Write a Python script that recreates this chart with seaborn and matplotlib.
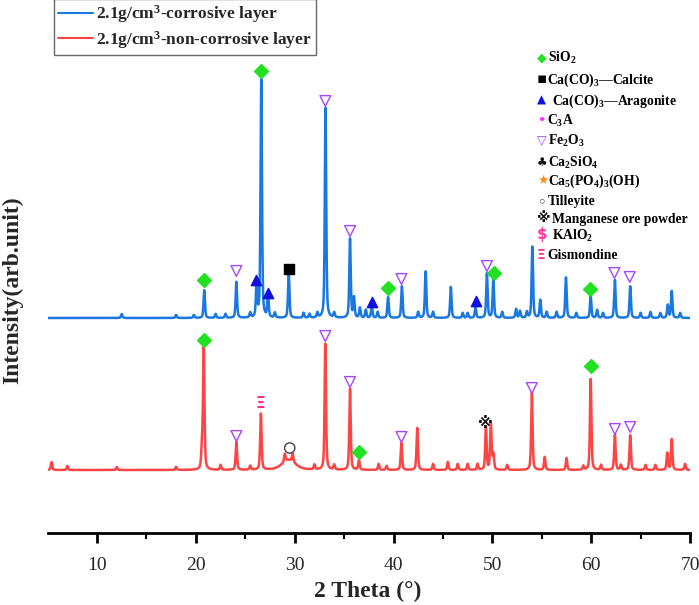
import numpy as np
import pandas as pd
import matplotlib
matplotlib.use("Agg")
import matplotlib.pyplot as plt
from matplotlib.lines import Line2D
import seaborn as sns

# ---------------- data ----------------
# Corrosive layer: peak 2theta positions and heights (arb. units)
blue_peak_pos = [12.5, 18.0, 19.8, 20.85, 22.0, 23.0, 24.1, 25.5, 26.15, 26.62, 27.3, 28.0,
                 29.4, 30.9, 31.5, 32.3, 33.12, 34.0, 35.6, 36.0, 36.6, 37.2, 37.8, 38.4,
                 39.45, 40.85, 42.5, 43.25, 44.0, 45.8, 47.0, 47.5, 48.3, 49.45, 50.1, 51.0,
                 52.4, 52.8, 53.5, 54.05, 54.85, 55.5, 56.5, 57.45, 58.5, 59.95, 60.6, 61.2,
                 62.4, 63.95, 65.0, 66.0, 67.0, 67.75, 68.15, 69.0]
blue_peak_hgt = [4, 3, 3, 28, 4, 4, 36, 5, 34, 238, 23, 5,
                 46, 5, 4, 5, 210, 5, 79, 20, 10, 8, 13, 6,
                 21, 32, 6, 47, 6, 31, 5, 5, 11, 45, 38, 6,
                 9, 7, 6, 72, 18, 6, 6, 41, 5, 22, 8, 5,
                 38, 32, 5, 6, 5, 13, 27, 5]

# Non-corrosive layer
red_peak_pos = [5.4, 7.0, 12.0, 18.0, 20.62, 20.8, 22.5, 24.1, 25.5, 26.58, 29.0, 29.8,
                32.0, 33.1, 34.0, 35.6, 36.5, 38.5, 39.3, 40.8, 42.4, 44.0, 45.5, 46.5,
                47.5, 48.5, 49.35, 49.85, 50.1, 51.5, 54.0, 55.3, 57.5, 59.2, 59.95, 61.0,
                62.4, 63.0, 63.95, 65.5, 66.5, 67.7, 68.15, 69.5]
red_peak_hgt = [8, 4, 3, 3, 20, 123, 5, 28, 4, 56, 8, 8,
                5, 126, 5, 81, 10, 6, 4, 27, 42, 6, 8, 6,
                6, 6, 43, 46, 15, 5, 77, 13, 12, 4, 92, 5,
                35, 5, 35, 5, 5, 17, 31, 6]
red_hump_pos = [29.4]
red_hump_hgt = [10]

blue_offset = 215
red_offset = 63

series_labels = ["2.1g/cm$^3$-corrosive layer", "2.1g/cm$^3$-non-corrosive layer"]

# phase markers: (phase, 2theta, height above the series baseline)
blue_mark_phase = ["SiO2", "Fe2O3", "Arag", "SiO2", "Arag", "Calc", "Fe2O3", "Fe2O3", "Arag",
                   "SiO2", "Fe2O3", "Arag", "Fe2O3", "SiO2", "SiO2", "Fe2O3", "Fe2O3"]
blue_mark_x = [20.85, 24.1, 26.1, 26.6, 27.3, 29.4, 33.1, 35.6, 37.8,
               39.4, 40.8, 48.3, 49.45, 50.2, 59.9, 62.35, 63.9]
blue_mark_h = [38, 47, 38, 247, 25, 49, 217, 87, 16,
               30, 39, 17, 52, 45, 29, 45, 41]

red_mark_phase = ["SiO2", "Fe2O3", "Gism", "Till", "Fe2O3", "Fe2O3", "SiO2", "Fe2O3",
                  "Mn", "Fe2O3", "SiO2", "Fe2O3", "Fe2O3"]
red_mark_x = [20.8, 24.1, 26.55, 29.5, 33.1, 35.6, 36.5, 40.8, 49.3, 54.0, 59.95, 62.4, 63.95]
red_mark_h = [130, 34, 66, 22, 134, 88, 18, 33, 47, 82, 104, 41, 43]

key_glyphs = ["\u25C6", "\u25AA", "\u25B2", "\u2022", "\u25BD", "\u2663", "\u2605", "\u25E6",
              "\u203B", "$", "\u039E"]
key_labels = ["SiO$_2$", "Ca(CO)$_3$\u2014Calcite", "Ca(CO)$_3$\u2014Aragonite", "C$_3$A",
              "Fe$_2$O$_3$", "Ca$_2$SiO$_4$", "Ca$_5$(PO$_4$)$_3$(OH)", "Tilleyite",
              "Manganese ore powder", "KAlO$_2$", "Gismondine"]

xticks_major = [10, 20, 30, 40, 50, 60, 70]

# ---------------- styles ----------------
C_BLUE = "#1a78e0"
C_RED = "#ff4444"
key_colors = ["#22e022", "#000000", "#1010e0", "#ff33ff", "#a646ff", "#111111",
              "#ff8a1a", "#444444", "#111111", "#ff3a9a", "#ff2d8a"]
key_sizes = [9, 11, 8.5, 9.5, 9, 8.5, 9, 9.5, 10, 11, 10]

sns.set_theme(style="white")
plt.rcParams['font.family'] = ['Liberation Serif', 'DejaVu Sans']
plt.rcParams['mathtext.fontset'] = 'custom'
plt.rcParams['mathtext.rm'] = 'Liberation Serif:bold'
plt.rcParams['mathtext.it'] = 'Liberation Serif:bold'
plt.rcParams['mathtext.bf'] = 'Liberation Serif:bold'

W, H = 699, 605
fig = plt.figure(figsize=(W / 100, H / 100), dpi=100)
ax = fig.add_axes([47.6 / W, 1 - 533 / H, (690 - 47.6) / W, (533 - 5) / H])


def profile(x, pos, hgt, fwhm):
    g = fwhm / 2.0
    y = np.zeros_like(x)
    for p, h in zip(pos, hgt):
        lor = 1.0 / (1.0 + ((x - p) / g) ** 2)
        gau = np.exp(-np.log(2) * ((x - p) / g) ** 2)
        y += h * (0.5 * lor + 0.5 * gau)
    return y


tt = np.arange(5.0, 70.0001, 0.02)
blue_y = blue_offset + profile(tt, blue_peak_pos, blue_peak_hgt, 0.17)
red_y = (red_offset + profile(tt, red_peak_pos, red_peak_hgt, 0.17)
         + profile(tt, red_hump_pos, red_hump_hgt, 1.6))

df = pd.concat([
    pd.DataFrame({"2theta": tt, "I": blue_y, "layer": series_labels[0]}),
    pd.DataFrame({"2theta": tt, "I": red_y, "layer": series_labels[1]}),
])
sns.lineplot(data=df, x="2theta", y="I", hue="layer", palette=[C_BLUE, C_RED],
             estimator=None, sort=False, lw=1.8, ax=ax, legend=False)

marker_style = {
    "SiO2": dict(marker="D", s=50, color=key_colors[0]),
    "Calc": dict(marker="s", s=45, color=key_colors[1]),
    "Arag": dict(marker="^", s=55, color=key_colors[2]),
    "Fe2O3": dict(marker="v", s=60, facecolors="none", edgecolors=key_colors[4], linewidths=1.0),
    "Till": dict(marker="o", s=55, facecolors="none", edgecolors="#444444", linewidths=1.0),
}
text_marks = {"Mn": ("\u203B", "#111111"), "Gism": ("\u039E", "#ff2d8a")}

for phases, xs, hs, off in [(blue_mark_phase, blue_mark_x, blue_mark_h, blue_offset),
                            (red_mark_phase, red_mark_x, red_mark_h, red_offset)]:
    for ph, xv, hv in zip(phases, xs, hs):
        if ph in marker_style:
            ax.scatter([xv], [off + hv], zorder=5, **marker_style[ph])
        else:
            g, c = text_marks[ph]
            ax.text(xv, off + hv, g, color=c, ha="center", va="center", fontsize=11,
                    family=["DejaVu Sans"], fontweight="bold", zorder=5)

ax.set_xlim(5, 70)
ax.set_ylim(0, 528)
ax.set_yticks([])
ax.set_xticks(xticks_major)
ax.set_xticks(np.arange(15, 70, 10), minor=True)
ax.set_xlabel("")
ax.set_ylabel("")
for s in ["left", "top", "right"]:
    ax.spines[s].set_visible(False)
ax.spines["bottom"].set_linewidth(2)
ax.spines["bottom"].set_color("black")
ax.tick_params(axis="x", which="major", direction="out", length=7, width=2, color="black",
               labelsize=14, pad=10, bottom=True)
ax.tick_params(axis="x", which="minor", direction="out", length=4, width=1.5, color="black",
               bottom=True)
for t in ax.get_xticklabels():
    t.set_family("Liberation Serif")

fig.text(368 / W, 1 - 591 / H, "2 Theta (\u00B0)", ha="center", va="center",
         fontsize=17, fontweight="bold")
fig.text(13 / W, 1 - 290 / H, "Intensity(arb.unit)", ha="center", va="center",
         rotation=90, fontsize=17, fontweight="bold")

handles = [Line2D([], [], color=C_BLUE, lw=1.5), Line2D([], [], color=C_RED, lw=1.5)]
leg = fig.legend(handles, series_labels, loc="upper left",
                 bbox_to_anchor=(54 / W, 1 + 1 / H), borderaxespad=0,
                 prop=dict(family="Liberation Serif", weight="bold", size=12.5),
                 frameon=True, fancybox=False, edgecolor="#444444",
                 handlelength=2.0, handletextpad=0.15, labelspacing=0.2,
                 borderpad=0.25)
leg.get_frame().set_linewidth(1.0)

# phase key on the right
key_y = [57, 79, 100, 120, 140, 162, 180, 201, 218, 235, 255]
key_text_x = [548, 547, 552, 547, 548, 548, 548, 548, 552, 552, 547]
for g, c, sz, lab, yv, tx in zip(key_glyphs, key_colors, key_sizes, key_labels, key_y, key_text_x):
    fig.text(537 / W, 1 - (yv + 4) / H, g, color=c, ha="left", va="baseline", fontsize=sz,
             family=["DejaVu Sans"], fontweight="bold")
    fig.text(tx / W, 1 - (yv + 4.5) / H, lab, color="black", ha="left", va="baseline",
             fontsize=9.8, fontweight="bold")

fig.savefig("out.png", dpi=100)
